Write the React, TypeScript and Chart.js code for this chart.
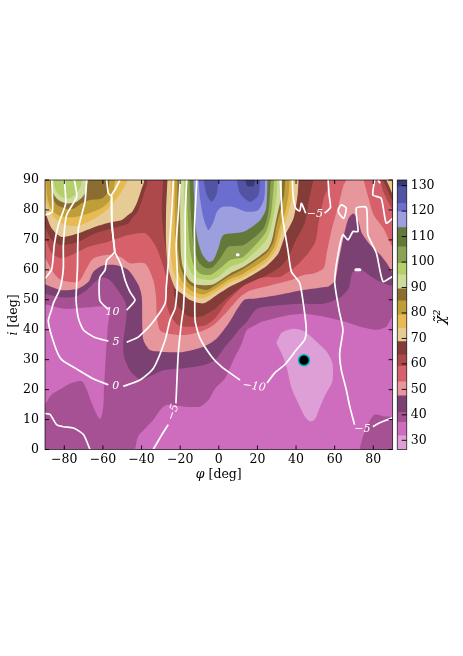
import React, { useEffect, useRef } from "react";
import { Chart, registerables } from "chart.js";
Chart.register(...registerables);

type P = [number, number];

// Filled χ² contour regions, in (φ, i) degrees
const regionFull: P[] = [[-90, 0], [90, 0], [90, 90], [-90, 90], [-90, 0]];
const below37Left: P[] = [[-90, 15], [-86.6, 18.3], [-82.2, 20], [-77, 22], [-71, 22.8], [-68.4, 20], [-65.9, 15.6], [-62.9, 11.3], [-61.2, 10.2], [-59.8, 14.4], [-59.5, 20], [-59, 25.6], [-58.4, 32.2], [-57.6, 40], [-57.2, 47.4], [-68, 47.4], [-80, 47], [-90, 48.5]];
const below37Main: P[] = [[-43.4, 0], [-41.7, 4.4], [-37.4, 7.5], [-33.9, 9.9], [-30.4, 13.2], [-27, 14.9], [-18.3, 14.4], [-9.7, 14.3], [-5.4, 16.5], [-1.9, 20.4], [3.2, 23.8], [7.6, 29.9], [11.9, 35.4], [14.5, 39.9], [18.8, 41.5], [22.9, 42.8], [35, 44.7], [43.6, 45.3], [54, 44.4], [64.3, 42.8], [72.9, 41.1], [81.6, 40], [86.7, 41], [90, 44.4], [90, 0]];
const above37Corner: P[] = [[72.9, 0], [74.7, 4.4], [78.1, 9.4], [80.7, 11.7], [85, 11.1], [90, 10.5], [90, 0]];
const below32: P[] = [[29.8, 35.6], [32.4, 38.9], [38.4, 40.3], [44.5, 39.4], [50.5, 36.1], [55.7, 32.8], [58.8, 28.9], [58.8, 22.8], [54.8, 17.8], [52.2, 13.9], [49.7, 10], [47.1, 9.4], [44.5, 11.1], [41, 15.6], [37.6, 20.6], [35, 27.8], [32.4, 32.2], [29.8, 35.6]];
const above41: P[] = [[-90, 52], [-81.4, 50.8], [-74.5, 51], [-68.4, 53.2], [-64, 56], [-60, 57.4], [-56.3, 56.5], [-52.9, 53.8], [-48.5, 49.4], [-47.7, 45], [-49.5, 35.6], [-49, 31], [-46, 26.5], [-40.8, 23.5], [-34, 25], [-28.7, 26.5], [-18.3, 27.1], [-8, 28.2], [-1.9, 29.9], [3.2, 34.3], [7.6, 37.6], [11, 40.4], [14.5, 42.6], [19.7, 47], [30, 48.1], [42.1, 48.7], [54.2, 48.7], [62, 50.4], [67.2, 53.8], [69, 58.8], [72.4, 60.5], [76.7, 58.8], [80.2, 57.2], [85.3, 55.5], [90, 55], [90, 90], [-90, 90]];
const above47: P[] = [[-90, 55.2], [-81.4, 53.2], [-72.7, 53.8], [-67.5, 56], [-65, 59.3], [-59.8, 61.5], [-52.9, 61.5], [-46.8, 59.9], [-41.6, 54.9], [-39.9, 51], [-39.6, 41], [-39, 36.5], [-35.6, 33.2], [-28.7, 32.6], [-18.3, 32.6], [-8, 34.3], [-1.1, 37.1], [5, 42.1], [12.8, 49.8], [18.8, 50.4], [30, 51.5], [42.1, 53.1], [54.2, 54.2], [56.8, 54.4], [60.3, 56.6], [62, 62.7], [64.6, 71], [67.2, 77.2], [69.8, 78.8], [72.4, 76], [74.1, 72.2], [78.4, 68.3], [83.6, 65], [87, 62.2], [90, 59.4], [90, 90], [-90, 90]];
const above53: P[] = [[-90, 64], [-85, 58.5], [-81.4, 56.5], [-72.7, 56], [-68.4, 60.5], [-65, 63.8], [-57.2, 65], [-51.1, 64.4], [-46, 62.2], [-38.2, 62.1], [-33.9, 56.5], [-32.5, 51], [-32.1, 44.3], [-30, 39.5], [-18.3, 38.2], [-9.7, 39.3], [-2.8, 41.5], [4.1, 45.9], [11, 50.9], [16.2, 53.1], [26.6, 54.8], [37, 56.5], [43.9, 58.3], [49.1, 58.8], [54.3, 60.5], [56, 66], [58.6, 73.8], [62, 81.6], [64.6, 88.3], [65.8, 90], [-90, 90]];
const above53Right: P[] = [[75, 90], [77.6, 83.8], [80.2, 78.3], [85.3, 73.8], [90, 68], [90, 90]];
const above59: P[] = [[-90, 71], [-86.5, 65.5], [-81.4, 63.8], [-74.5, 65.5], [-67.5, 67.7], [-57.2, 69.4], [-46.8, 71.6], [-38.2, 72.2], [-33, 68.3], [-29.5, 62.7], [-27, 56.5], [-27, 48.8], [-25.2, 44.9], [-20.9, 41.5], [-14, 41], [-7, 41.5], [-2, 43.8], [4.1, 49.2], [10.2, 53.1], [16.2, 56.5], [24.9, 57.6], [31.8, 57.7], [39.6, 61], [45.6, 65], [50, 69.4], [51.7, 76], [54.3, 83.8], [56.8, 90], [-90, 90]];
const above59Right: P[] = [[83.6, 90], [85.3, 86], [90, 80.5], [90, 90]];
const above64Left: P[] = [[-90, 74.4], [-86.5, 70], [-81.4, 68.3], [-72.7, 69.4], [-64, 72.2], [-55.5, 73.8], [-46.8, 75.5], [-45, 77.2], [-42, 79.4], [-39, 85], [-37.5, 90], [-90, 90]];
const above64Mid: P[] = [[-28.8, 90], [-29.5, 79.4], [-28.3, 70.5], [-26.1, 63.2], [-23.5, 56.5], [-23.1, 50.9], [-20.9, 47.6], [-15.7, 44.5], [-8.8, 44.5], [-1.9, 47], [4.1, 50.5], [12.8, 54.7], [24.9, 58.3], [31.8, 61], [36.1, 64.4], [39.5, 69.4], [44.7, 76], [46.5, 82.7], [49, 90]];
const above64Right: P[] = [[85, 90], [87, 87.2], [90, 83.3], [90, 90]];
const above69Left: P[] = [[-90, 79.4], [-86.5, 73.8], [-81.4, 71], [-72.7, 72.2], [-64, 74.4], [-55.5, 76], [-50.5, 76.6], [-46.8, 78.4], [-44.8, 79.4], [-42.5, 82.2], [-40, 87], [-39, 90], [-90, 90]];
const above69Mid: P[] = [[-26.6, 90], [-27.3, 79.4], [-27.3, 68.3], [-26.1, 60.5], [-22.6, 53.8], [-19.2, 52.1], [-14.9, 49.9], [-7.9, 48.8], [-1, 51.6], [5.9, 54.4], [12.8, 56.6], [24.9, 61.4], [30.9, 65.5], [34.4, 71.6], [38.7, 77.2], [40.8, 85], [41.3, 90]];
const above69Right: P[] = [[86.7, 90], [88.4, 87.7], [90, 85.5], [90, 90]];
const above74Left: P[] = [[-90, 83.8], [-87.9, 80], [-84.8, 77.2], [-79.6, 75], [-72.7, 74.7], [-64.1, 77.2], [-57.2, 80.5], [-52.9, 83.8], [-49.4, 87.2], [-47.7, 90], [-90, 90]];
const above74Mid: P[] = [[-24.9, 90], [-24.9, 79.4], [-24.9, 66], [-23.5, 59.4], [-20, 54.4], [-14.9, 51.6], [-7.9, 50.5], [-1, 52.9], [5.9, 55.8], [12.8, 57.7], [24.9, 62.7], [30, 67.2], [32.6, 72.7], [36.1, 79.4], [38.2, 85], [38.7, 90]];
const above74Right: P[] = [[88.8, 90], [90, 88], [90, 90]];
const above79Left: P[] = [[-89.5, 90], [-88.6, 83.8], [-86.5, 80], [-82.2, 78], [-75.3, 77.6], [-67.5, 78.8], [-59.8, 81], [-56.3, 83.3], [-54.6, 86.1], [-53.7, 90]];
const above79Mid: P[] = [[-22.8, 90], [-22.8, 77.2], [-22.5, 66], [-21.4, 59.9], [-18.3, 55.5], [-14, 52.9], [-7.9, 51.8], [-1, 54], [5.9, 56.9], [12.8, 58.8], [24.9, 64], [29.2, 68.3], [31.4, 73.8], [34.4, 79.4], [36.1, 85], [36.6, 90]];
const above85Left: P[] = [[-87.4, 90], [-86.5, 85], [-84, 81.8], [-79.6, 80.5], [-75.3, 80.4], [-71, 82.2], [-66.7, 83.3], [-60.6, 83.8], [-57.5, 86], [-56.7, 90]];
const above85Mid: P[] = [[-21.4, 90], [-21.4, 77.2], [-20.9, 66], [-19.7, 60.5], [-16.6, 56.3], [-13.1, 54.4], [-6.2, 53.3], [-1, 55.2], [5.9, 58], [12.8, 60.3], [24.9, 65.8], [28.3, 69.4], [30, 75], [32.6, 81.6], [33.8, 85], [34.4, 90]];
const above90Left: P[] = [[-86.9, 90], [-85.7, 85.5], [-83.1, 83.3], [-78.8, 82.2], [-73.6, 82.7], [-69.3, 85.5], [-67.9, 90]];
const above90Mid: P[] = [[-20, 90], [-20, 77.2], [-19.7, 66], [-18.7, 61], [-15.7, 56.9], [-12.3, 55.2], [-4.5, 54.9], [-1, 55.8], [5.9, 58.8], [12.8, 61], [24.9, 66.6], [27.5, 70], [29.5, 76], [31.4, 81.6], [32.5, 85], [32.8, 90]];
const above95Left: P[] = [[-85.7, 90], [-84.5, 86.6], [-81.4, 84.4], [-77.9, 83.8], [-73.6, 85.5], [-71.3, 88.3], [-71, 90]];
const above95Mid: P[] = [[-18, 90], [-18, 77.2], [-17.4, 67.2], [-15.7, 61], [-12.3, 57.6], [-4.5, 56.6], [-0.2, 57.7], [5.9, 61], [12.8, 62.7], [24, 69.4], [26.9, 73.8], [28.7, 79.4], [30, 85], [30.4, 90]];
const above100Mid: P[] = [[-16.6, 90], [-16.2, 79.4], [-15.2, 68.3], [-13.1, 61.6], [-9.7, 58.8], [-4.5, 58.3], [0.7, 60.5], [5.9, 63.3], [12.8, 64.4], [24, 72.2], [26.6, 77.2], [27.6, 81.6], [28.7, 90]];
const above106Mid: P[] = [[-15.2, 90], [-14.5, 79.4], [-13.1, 68.3], [-10.5, 62.7], [-7.1, 60.7], [-3.6, 60.7], [0.7, 63.8], [5, 67.7], [12.8, 68.3], [23.1, 73.8], [25.7, 79.4], [26.9, 90]];
const above113Mid: P[] = [[-13.1, 90], [-12.6, 81.6], [-11.4, 71.6], [-8.8, 65.5], [-5.4, 62.7], [-2.8, 63.3], [-0.2, 67.2], [2.4, 71.6], [12.8, 72.7], [21.4, 76.6], [24.5, 80.5], [25.2, 90]];
const above120Mid: P[] = [[-10.5, 90], [-9.7, 83.8], [-7.9, 77.2], [-5.4, 73.3], [-2.8, 76], [-1, 79.4], [1.6, 81], [7.6, 81], [14.5, 79.4], [20.5, 80], [23.5, 83.8], [24, 90]];
const above123LobeA: P[] = [[-7.9, 90], [-6.2, 85], [-3.6, 82.7], [-1, 85.5], [-0.2, 90]];
const above123LobeB: P[] = [[9.3, 90], [11, 85.5], [16.2, 82.7], [20.5, 85], [21.4, 90]];
const above130: P[] = [[13.6, 90], [14.8, 88], [18, 88], [18.8, 90]];

// White contour lines
const line10a: P[] = [[-58.1, 90], [-57.2, 85.6], [-55.5, 84.4], [-55.5, 75], [-54, 66], [-58, 63.2], [-58.9, 59.9], [-61.5, 57.6], [-62, 54.3], [-61.5, 49.6], [-57.2, 46.8]];
const line10b: P[] = [[-51.2, 90], [-53.8, 86.7], [-55.5, 85], [-55.2, 75], [-53.8, 66], [-51.7, 63.2], [-50.3, 61], [-48.5, 56.5], [-46, 52.6], [-43.4, 49.9], [-47.7, 46.5]];
const line5a: P[] = [[-68.4, 90], [-69.3, 82.7], [-72.7, 73.8], [-73.2, 60.5], [-73.6, 55.4], [-73.9, 49.9], [-72.7, 43.8], [-70.1, 39.9], [-64.1, 37.4], [-57.2, 36.2]];
const line5b: P[] = [[-47.7, 35.8], [-41.6, 37.6], [-34.7, 42.1], [-27.8, 48.8], [-27.2, 54.3], [-26.1, 62.7], [-24.4, 79.4], [-23.5, 90]];
const line0a: P[] = [[-74.8, 90], [-73.6, 84.4], [-78.8, 78.3], [-80.5, 68.3], [-80.5, 60.5], [-82.2, 53.8], [-85.7, 48.8], [-86.6, 46.7], [-88.3, 42.8], [-84.8, 34.4], [-81.4, 30], [-73.6, 26.9], [-65, 23.6], [-57.2, 21.6]];
const line0b: P[] = [[-49.5, 21.1], [-40.8, 23.2], [-33.9, 27.1], [-27.8, 36.5], [-25.3, 43.2], [-22.6, 47.2], [-21.4, 57.2], [-22.1, 68.3], [-20.9, 79.4], [-20, 90]];
const lineM5a: P[] = [[-16.6, 90], [-17.4, 79.4], [-17.4, 62.7], [-18.3, 47.2], [-19.2, 43.2], [-21, 32], [-22.2, 15.4]];
const lineM5b: P[] = [[-26.2, 8.3], [-29.7, 4.7], [-34, 0]];
const lineM10a: P[] = [[-11.4, 90], [-12.6, 73.8], [-12.3, 58.3], [-12.3, 43.2], [-9.7, 37.1], [-3.7, 31], [1.5, 27.6], [11, 23.2]];
const lineM10b: P[] = [[25, 22.2], [29, 25.6], [34.1, 28.3], [40.2, 33.3], [44.5, 36.7], [45.3, 40], [44.2, 46.7], [41.9, 55.6], [37.6, 59.4], [35.9, 66.1], [32.9, 78.3], [31.9, 90]];
const lineM5c: P[] = [[38.1, 90], [38.4, 85], [39.8, 80.6], [41.9, 79.7], [42.8, 82.2], [45, 78.9]];
const lineM5d: P[] = [[54.8, 78.9], [57.8, 80.8], [57.1, 85], [56.6, 90]];
const lineLoop: P[] = [[61.7, 80], [63.4, 81.7], [66, 80.6], [64.7, 77.2], [62.2, 78.9], [61.7, 80]];
const lineM5e: P[] = [[70.3, 8.3], [67.8, 14.4], [66, 20], [63.4, 26.7], [62.6, 32.2], [64.3, 40], [62.2, 46.7], [60, 56.1], [61.7, 65], [64.3, 71.7], [66.9, 70], [69.5, 72.8], [72.1, 72.8], [71.2, 80.6], [76.4, 80.8], [77.2, 71.7], [81.6, 65.6], [85, 56.1], [90, 57.8]];
const lineM5f: P[] = [[79.8, 7.6], [83.3, 8.9], [86.7, 9.8], [90, 10.6]];
const lineTopRightA: P[] = [[80.7, 90], [79.8, 85], [84.1, 83.9], [86.7, 75.6], [90, 77.2]];
const lineTopRightB: P[] = [[82.4, 90], [83.6, 88.9]];
const lineBottomLeft: P[] = [[-90, 12], [-87.4, 11.7], [-84, 8.3], [-80.5, 7.6], [-75.3, 7.2], [-70.1, 5], [-66.7, 0]];
const lineTopLeftA: P[] = [[-80, 90], [-79.3, 82.2], [-83.1, 75], [-85.2, 68.3], [-86.5, 60.2], [-90, 57.1]];
const lineTopLeftB: P[] = [[-86.5, 90], [-86.2, 79.4], [-90, 78.3]];
const speckA: P[] = [[71, 60], [73, 60]];
const speckB: P[] = [[9.6, 65], [10, 65]];
const bestFit: P[] = [[44.1, 29.8]];

const contourLabelText = ["10", "5", "0", "−5", "−10", "−5", "−5"];
const contourLabelPhi = [-55, -53.2, -53.3, -23.6, 18.3, 49.7, 74.3];
const contourLabelInc = [45.8, 36, 21.1, 12.4, 21, 78.6, 6.7];
const contourLabelRot = [0, 0, 0, -70, 8, 0, 0];

const xTicks = [-80, -60, -40, -20, 0, 20, 40, 60, 80];
const yTicks = [0, 10, 20, 30, 40, 50, 60, 70, 80, 90];
const barTicks = [30, 40, 50, 60, 70, 80, 90, 100, 110, 120, 130];
const levels = [26.4, 31.8, 37, 41, 47.5, 53, 59, 63.6, 68.8, 74, 79.3, 84.8, 89.5, 95, 99.5, 106, 113.5, 119.8, 123, 129.6, 132.2];
const palette = ["#de9ed6", "#ce6dbd", "#a55194", "#7b4173", "#e7969c", "#d6616b", "#ad494a", "#843c39", "#e7cb94", "#e7ba52", "#bd9e39", "#8c6d31", "#cedb9c", "#b5cf6b", "#8ca252", "#637939", "#9c9ede", "#6b6ecf", "#5254a3", "#393b79"];

const paintOrder: [P[], number][] = [
  [regionFull, 2], [below37Left, 1], [below37Main, 1], [above37Corner, 2], [below32, 0],
  [above41, 3], [above47, 4], [above53, 5], [above53Right, 5], [above59, 6], [above59Right, 6],
  [above64Left, 7], [above64Mid, 7], [above64Right, 7],
  [above69Left, 8], [above69Mid, 8], [above69Right, 8],
  [above74Left, 9], [above74Mid, 9], [above74Right, 9],
  [above79Left, 10], [above79Mid, 10],
  [above85Left, 11], [above85Mid, 11],
  [above90Left, 12], [above90Mid, 12],
  [above95Left, 13], [above95Mid, 13],
  [above100Mid, 14], [above106Mid, 15], [above113Mid, 16], [above120Mid, 17],
  [above123LobeA, 18], [above123LobeB, 18], [above130, 19],
];
const whiteLines = [line10a, line10b, line5a, line5b, line0a, line0b, lineM5a, lineM5b, lineM10a, lineM10b, lineM5c, lineM5d, lineLoop, lineM5e, lineM5f, lineTopRightA, lineTopRightB, lineBottomLeft, lineTopLeftA, lineTopLeftB];

const SERIF = '"DejaVu Serif"';
const FS = 12.5;
const toXY = (a: P[]) => a.map(([x, y]) => ({ x, y }));

const inwardTicks = (xs: number[] | null, ys: number[], len: number, yId: string) => ({
  id: "inwardTicks",
  afterDatasetsDraw(c: any) {
    const { ctx, chartArea: a } = c;
    ctx.save();
    ctx.strokeStyle = "#000";
    ctx.lineWidth = 0.9;
    ctx.beginPath();
    (xs || []).forEach((v) => {
      const p = c.scales.x.getPixelForValue(v);
      ctx.moveTo(p, a.top); ctx.lineTo(p, a.top + len);
      ctx.moveTo(p, a.bottom); ctx.lineTo(p, a.bottom - len);
    });
    ys.forEach((v) => {
      const p = c.scales[yId].getPixelForValue(v);
      if (xs) { ctx.moveTo(a.left, p); ctx.lineTo(a.left + len, p); }
      ctx.moveTo(a.right, p); ctx.lineTo(a.right - len, p);
    });
    ctx.stroke();
    ctx.strokeStyle = "rgba(0,0,0,0.75)";
    ctx.lineWidth = 0.9;
    ctx.strokeRect(a.left, a.top, a.right - a.left, a.bottom - a.top);
    ctx.restore();
  },
});

const textPlugin = {
  id: "textPlugin",
  afterDatasetsDraw(c: any) {
    const { ctx } = c;
    ctx.save();
    ctx.textAlign = "center";
    ctx.textBaseline = "middle";
    ctx.fillStyle = "#fff";
    ctx.font = `italic 11px ${SERIF}`;
    contourLabelText.forEach((t, k) => {
      ctx.save();
      ctx.translate(c.scales.x.getPixelForValue(contourLabelPhi[k]), c.scales.y.getPixelForValue(contourLabelInc[k]));
      ctx.rotate((contourLabelRot[k] * Math.PI) / 180);
      ctx.fillText(t, 0, 0);
      ctx.restore();
    });
    ctx.fillStyle = "#000";
    const cx = (c.chartArea.left + c.chartArea.right) / 2;
    ctx.textAlign = "left";
    ctx.font = `italic ${FS}px ${SERIF}`;
    const w1 = ctx.measureText("φ").width;
    ctx.font = `${FS}px ${SERIF}`;
    const w2 = ctx.measureText(" [deg]").width;
    const x0 = cx - (w1 + w2) / 2;
    ctx.font = `italic ${FS}px ${SERIF}`;
    ctx.fillText("φ", x0, 475);
    ctx.font = `${FS}px ${SERIF}`;
    ctx.fillText(" [deg]", x0 + w1, 475);
    ctx.save();
    ctx.translate(14, 315);
    ctx.rotate(-Math.PI / 2);
    ctx.font = `italic ${FS}px ${SERIF}`;
    const w3 = ctx.measureText("i").width;
    ctx.font = `${FS}px ${SERIF}`;
    const w4 = ctx.measureText(" [deg]").width;
    ctx.font = `italic ${FS}px ${SERIF}`;
    ctx.fillText("i", -(w3 + w4) / 2, 0);
    ctx.font = `${FS}px ${SERIF}`;
    ctx.fillText(" [deg]", -(w3 + w4) / 2 + w3, 0);
    ctx.restore();
    ctx.restore();
  },
};

const barTitlePlugin = {
  id: "barTitle",
  afterDatasetsDraw(c: any) {
    const { ctx } = c;
    ctx.save();
    ctx.translate(51, 317);
    ctx.rotate(-Math.PI / 2);
    ctx.textAlign = "center";
    ctx.textBaseline = "middle";
    ctx.fillStyle = "#000";
    ctx.font = `italic 15px ${SERIF}`;
    ctx.fillText("χ̃²", 0, 0);
    ctx.restore();
  },
};

export default function App() {
  const mainRef = useRef<HTMLCanvasElement>(null);
  const barRef = useRef<HTMLCanvasElement>(null);

  useEffect(() => {
    const regionSets = paintOrder.map(([pts, b], k) => ({
      type: "scatter",
      data: toXY(pts),
      showLine: true,
      fill: "shape",
      backgroundColor: palette[b],
      borderColor: palette[b],
      borderWidth: 0,
      pointRadius: 0,
      tension: pts === regionFull ? 0 : 0.25,
      order: 1000 - k,
    }));
    const lineSets = whiteLines.map((pts) => ({
      type: "scatter",
      data: toXY(pts),
      showLine: true,
      fill: false,
      borderColor: "#fff",
      borderWidth: 1.7,
      pointRadius: 0,
      tension: 0.2,
      order: 10,
    }));
    const speckSets = [speckA, speckB].map((pts) => ({
      type: "scatter",
      data: toXY(pts),
      showLine: true,
      fill: false,
      borderColor: "#fff",
      borderWidth: 3,
      borderCapStyle: "round",
      pointRadius: 0,
      order: 5,
    }));
    const marker = {
      type: "scatter",
      data: toXY(bestFit),
      pointRadius: 5.5,
      pointBackgroundColor: "#000",
      pointBorderColor: "#00b8c4",
      pointBorderWidth: 1.5,
      order: 0,
    };
    const main = new Chart(mainRef.current!, {
      type: "scatter",
      data: { datasets: [...regionSets, ...lineSets, ...speckSets, marker] as any },
      options: {
        responsive: false,
        animation: false,
        layout: { padding: { left: 0, top: 180, right: 70.4, bottom: 0 } },
        plugins: { legend: { display: false }, tooltip: { enabled: false } },
        scales: {
          x: {
            type: "linear", min: -90, max: 90,
            afterBuildTicks: (s: any) => { s.ticks = xTicks.map((value) => ({ value })); },
            afterFit: (s: any) => { s.height = 206.5; },
            grid: { display: false, drawTicks: false },
            border: { display: false },
            ticks: {
              autoSkip: false, maxRotation: 0, padding: 3, color: "#000",
              font: { family: SERIF, size: FS },
              callback: (v: any) => String(v).replace("-", "−"),
            },
          },
          y: {
            type: "linear", min: 0, max: 90,
            afterBuildTicks: (s: any) => { s.ticks = yTicks.map((value) => ({ value })); },
            afterFit: (s: any) => { s.width = 45; },
            grid: { display: false, drawTicks: false },
            border: { display: false },
            ticks: {
              autoSkip: false, padding: 6, color: "#000",
              font: { family: SERIF, size: FS },
            },
          },
        },
      } as any,
      plugins: [inwardTicks(xTicks, yTicks, 4, "y"), textPlugin] as any,
    });
    const bar = new Chart(barRef.current!, {
      type: "bar",
      data: {
        labels: ["χ²"],
        datasets: palette.map((col, k) => ({
          data: [[levels[k], levels[k + 1]]],
          backgroundColor: col,
          borderWidth: 0,
          barPercentage: 1,
          categoryPercentage: 1,
          grouped: false,
        })) as any,
      },
      options: {
        responsive: false,
        animation: false,
        layout: { padding: { left: 7.3, top: 180, right: 0, bottom: 206.5 } },
        plugins: { legend: { display: false }, tooltip: { enabled: false } },
        scales: {
          x: { display: false, grid: { display: false } },
          y: {
            position: "right", min: 26.4, max: 132.2,
            afterBuildTicks: (s: any) => { s.ticks = barTicks.map((value) => ({ value })); },
            afterFit: (s: any) => { s.width = 56.3; },
            grid: { display: false, drawTicks: false },
            border: { display: false },
            ticks: { padding: 4, color: "#000", font: { family: SERIF, size: FS } },
          },
        },
      } as any,
      plugins: [inwardTicks(null, barTicks, 5, "y"), barTitlePlugin] as any,
    });
    return () => { main.destroy(); bar.destroy(); };
  }, []);

  return (
    <div style={{ position: "absolute", left: 0, top: 0, width: 463, height: 656, overflow: "hidden", background: "#fff" }}>
      <canvas ref={mainRef} width={463} height={656} style={{ position: "absolute", left: 0, top: 0, display: "block" }} />
      <canvas ref={barRef} width={73} height={656} style={{ position: "absolute", left: 390, top: 0, display: "block" }} />
    </div>
  );
}
